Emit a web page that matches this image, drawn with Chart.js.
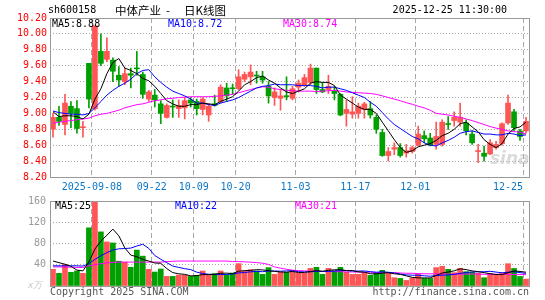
<!DOCTYPE html>
<html>
<head>
<meta charset="utf-8">
<script src="https://cdn.jsdelivr.net/npm/chart.js@4/dist/chart.umd.min.js"></script>
<style>
  body { margin: 0; background: #fff; }
  #wrap { position: relative; width: 545px; height: 300px; overflow: hidden; font-family: "DejaVu Sans Mono", monospace; }
  canvas { position: absolute; left: 0; }
  .t { position: absolute; white-space: nowrap; font-size: 10px; line-height: 10px; }
  .cn { font-family: "Noto Sans CJK SC"; font-size: 11.5px; line-height: 12px; }
</style>
</head>
<body>
<div id="wrap">
  <canvas id="kline" width="545" height="195" style="top:0"></canvas>
  <canvas id="volume" width="545" height="105" style="top:195px"></canvas>

  <div class="t" style="left:48px;top:5px;">sh600158</div>
  <div class="t cn" style="left:115px;top:4px;">中体产业</div>
  <div class="t cn" style="left:166px;top:4px;">-</div>
  <div class="t cn" style="left:184px;top:4px;">日K线图</div>
  <div class="t" style="right:38px;top:5px;">2025-12-25 11:30:00</div>

  <div class="t" style="left:52px;top:19px;color:#000;">MA5:8.88</div>
  <div class="t" style="left:168px;top:19px;color:#0000ff;">MA10:8.72</div>
  <div class="t" style="left:283px;top:19px;color:#ff00ff;">MA30:8.74</div>

  <div class="t" style="left:55px;top:201px;color:#000;">MA5:25</div>
  <div class="t" style="left:175px;top:201px;color:#0000ff;">MA10:22</div>
  <div class="t" style="left:295px;top:201px;color:#ff00ff;">MA30:21</div>

  <div class="t" style="left:28px;top:280px;color:#c8c8c8;font-size:9px;font-style:italic;">x万</div>
  <div class="t" style="left:50px;top:287px;color:#555;">Copyright 2025 SINA.COM</div>
  <div class="t" style="right:16px;top:287px;color:#555;">http://finance.sina.com.cn</div>
  <div class="t" style="left:490px;top:150px;color:rgba(190,190,190,0.55);font-family:'DejaVu Sans';font-size:17px;line-height:17px;font-weight:bold;font-style:italic;">sina</div>
</div>

<script>
// trading days 2025-08-28 .. 2025-12-25
const days = [
  "08-28","08-29",
  "09-01","09-02","09-03","09-04","09-05","09-08","09-09","09-10","09-11","09-12",
  "09-15","09-16","09-17","09-18","09-19","09-22","09-23","09-24","09-25","09-26","09-29","09-30",
  "10-09","10-10","10-13","10-14","10-15","10-16","10-17","10-20","10-21","10-22","10-23","10-24",
  "10-27","10-28","10-29","10-30","10-31",
  "11-03","11-04","11-05","11-06","11-07","11-10","11-11","11-12","11-13","11-14",
  "11-17","11-18","11-19","11-20","11-21","11-24","11-25","11-26","11-27","11-28",
  "12-01","12-02","12-03","12-04","12-05","12-08","12-09","12-10","12-11","12-12",
  "12-15","12-16","12-17","12-18","12-19","12-22","12-23","12-24","12-25"
];
const tickDays = ["09-08", "09-22", "10-09", "10-20", "11-03", "11-17", "12-01", "12-25"];
const tickText = ["2025-09-08", "09-22", "10-09", "10-20", "11-03", "11-17", "12-01", "12-25"];

const opens = [8.80,8.95,8.86,9.09,9.06,8.82,9.63,9.06,9.78,9.68, 9.67,9.48,9.40,9.50,9.57,9.49,9.18,9.23,9.12,8.95,
  9.09,9.06,9.07,9.17,9.15,9.05,8.98,9.12,9.15,9.32, 9.32,9.31,9.43,9.46,9.48,9.46,9.34,9.20,9.19,9.22,
  9.19,9.33,9.36,9.39,9.57,9.30,9.30,9.28,9.24,9.00, 8.99,9.00,9.05,9.06,8.95,8.76,8.47,8.55,8.57,8.50,
  8.52,8.60,8.72,8.69,8.61,8.61,8.87,8.91,8.89,8.88, 8.74,8.52,8.50,8.49,8.57,8.62,8.88,9.02,8.78,8.78];
const highs = [9.00,9.09,9.24,9.15,9.16,8.90,9.63,10.10,10.00,9.95, 9.70,9.59,9.57,9.57,9.78,9.52,9.29,9.30,9.16,9.12,
  9.17,9.17,9.20,9.20,9.18,9.20,9.12,9.23,9.36,9.38, 9.37,9.55,9.52,9.61,9.53,9.53,9.40,9.32,9.30,9.46,
  9.34,9.42,9.49,9.62,9.57,9.39,9.48,9.34,9.25,9.17, 9.21,9.13,9.14,9.15,8.98,8.80,8.57,8.63,8.62,8.61,
  8.59,8.84,8.78,8.75,8.89,8.92,8.96,9.02,9.13,8.92, 8.78,8.61,8.59,8.67,8.65,8.88,9.23,9.05,8.80,8.95];
const lows = [8.70,8.85,8.73,8.82,8.75,8.70,9.07,9.04,9.60,9.65, 9.40,9.34,9.36,9.32,9.48,9.19,9.15,9.08,8.87,8.94,
  8.95,8.95,8.93,9.08,8.98,8.98,8.90,9.09,9.13,9.15, 9.24,9.30,9.40,9.36,9.38,9.38,9.13,9.10,9.04,9.17,
  9.17,9.27,9.34,9.36,9.25,9.26,9.25,9.17,8.97,8.84, 8.94,8.94,8.94,8.94,8.75,8.46,8.40,8.48,8.45,8.45,
  8.50,8.59,8.63,8.59,8.55,8.59,8.80,8.84,8.84,8.73, 8.61,8.38,8.40,8.48,8.55,8.60,8.86,8.78,8.66,8.75];
const closes = [8.95,8.90,9.13,9.00,8.81,8.83,9.18,10.10,9.63,9.78, 9.53,9.42,9.50,9.48,9.56,9.24,9.27,9.17,9.00,9.10,
  9.08,9.10,9.16,9.13,9.06,9.18,9.09,9.10,9.33,9.22, 9.31,9.46,9.49,9.52,9.47,9.42,9.22,9.27,9.22,9.21,
  9.31,9.38,9.45,9.57,9.30,9.27,9.34,9.25,8.98,9.05, 9.02,9.09,9.12,8.98,8.80,8.47,8.52,8.57,8.47,8.53,
  8.57,8.74,8.68,8.60,8.71,8.89,8.86,8.95,8.95,8.78, 8.63,8.53,8.46,8.63,8.61,8.87,9.13,8.82,8.71,8.90];

const ma5 = [9.02,8.96,8.97,8.97,8.96,8.93,8.99,9.18,9.31,9.50, 9.64,9.69,9.57,9.54,9.50,9.44,9.41,9.34,9.25,9.16,
  9.12,9.09,9.09,9.11,9.11,9.13,9.12,9.11,9.15,9.18, 9.21,9.28,9.36,9.40,9.45,9.47,9.42,9.38,9.32,9.27,
  9.25,9.28,9.31,9.38,9.40,9.39,9.39,9.35,9.23,9.18, 9.13,9.08,9.05,9.05,9.00,8.89,8.78,8.67,8.57,8.51,
  8.53,8.58,8.60,8.62,8.66,8.72,8.75,8.80,8.87,8.89, 8.83,8.77,8.67,8.61,8.57,8.62,8.74,8.81,8.83,8.89];
const ma10 = [9.03,9.01,9.00,8.99,8.99,8.98,9.00,9.07,9.15,9.23, 9.29,9.34,9.38,9.43,9.50,9.54,9.55,9.46,9.39,9.33,
  9.28,9.25,9.22,9.18,9.13,9.13,9.11,9.10,9.13,9.15, 9.17,9.20,9.24,9.28,9.32,9.34,9.35,9.37,9.36,9.36,
  9.36,9.35,9.35,9.35,9.34,9.32,9.33,9.33,9.31,9.29, 9.26,9.23,9.20,9.14,9.09,9.01,8.93,8.86,8.81,8.76,
  8.71,8.68,8.63,8.60,8.59,8.63,8.66,8.70,8.75,8.77, 8.78,8.76,8.74,8.74,8.73,8.73,8.75,8.74,8.72,8.73];
const ma30 = [8.875,8.89,8.90,8.91,8.92,8.93,8.94,8.97,8.99,9.00, 9.02,9.04,9.07,9.09,9.11,9.12,9.14,9.16,9.17,9.185,
  9.19,9.20,9.205,9.21,9.21,9.21,9.21,9.215,9.22,9.23, 9.24,9.26,9.28,9.30,9.32,9.335,9.33,9.31,9.30,9.29,
  9.285,9.28,9.28,9.28,9.275,9.28,9.285,9.29,9.28,9.27, 9.265,9.26,9.255,9.25,9.24,9.22,9.20,9.18,9.16,9.135,
  9.115,9.09,9.07,9.04,9.00,8.99,8.98,8.965,8.95,8.93, 8.91,8.885,8.86,8.835,8.815,8.80,8.78,8.77,8.765,8.74];

// volume, 10k shares
const vols = [31.4,23.8,40.3,25.7,28.3,23.8,109.5,160,101.9,82.9, 81,46.7,44.8,35.2,67.6,56.2,31.4,26.3,32,18.1,
  18.1,20.6,20.6,18.1,20,28.3,20,23.2,28.3,21.3, 24.4,42.2,28.3,30.8,28.3,21.9,34.6,21.9,25.7,25.7,
  28.9,23.8,23.8,33.3,35.2,21.9,33.3,28.9,35.2,25.7, 21.9,21.9,25.7,20,24.4,29.5,25.7,15.6,14.3,10.5,
  14.9,21.9,14.3,14.3,34.6,37.1,31.4,25.1,33.3,27, 25.7,23.8,15.6,23.2,20,24,42,33,18,13];
const vma5 = [47,44,41,37,29.9,28.4,45.5,69.5,84.7,95.6, 107.1,94.5,71.5,58.1,55.1,50.1,47,43.3,42.7,32.8,
  25.2,23,21.9,19.1,19.5,21.5,21.4,21.9,24,24.2, 23.4,27.9,28.9,29.4,30.8,30.3,28.8,27.5,26.5,26,
  27.4,25.2,25.6,27.1,29,27.6,29.5,30.5,30.9,29, 29,26.7,26.1,23,22.8,24.3,25.1,23,21.9,19.1,
  16.2,15.4,15.2,15.2,20,24.4,26.3,28.5,32.3,30.8, 28.5,27,25.1,23.1,21.7,21.3,25,28.4,27.4,26];
const vma10 = [38,38,38,38,38,37.5,42,50,57,62.8, 67.7,70,70.5,71.4,75.3,78.6,70.8,57.4,50.4,43.9,
  37.6,35,32.6,30.9,26.1,23.4,22.2,21.9,21.5,21.9, 22.5,24.6,25.4,26.7,27.5,26.9,28.3,28.2,27.9,28.4,
  28.8,27,26.5,26.8,27.5,27.5,27.4,28.1,29,29, 28.3,28.1,28.3,27,25.9,26.7,25.9,24.6,22.5,21,
  20.3,20.3,19.1,18.5,19.6,20.3,20.9,21.8,23.7,25.4, 26.5,26.7,26.8,27.7,26.2,24.9,26,26.8,25.2,23.8];
const vma30 = [36,36,35.5,35.5,35,35,38,40,42,43.5, 44.5,45,45,45,45,45,45,45,45,46,
  46.5,47,47,47,47,47,47,47,47,47, 46,46,45.5,45,44,43,40.5,36,33.5,31.5,
  29.7,29,28.5,28,28,27.5,27.5,27,27,26.5, 26.5,26,26,26,25.5,25.5,25,25,24.5,24,
  24,23.5,23,23,23,22.5,22.5,22.5,22.5,22.5, 22.5,22.5,22,22,22,22,22,21.5,21.5,21.5];

const UP = "#ff5555";
const DOWN = "#00a000";
const GRID = "#a8a8a8";
const MONO = "'DejaVu Sans Mono', monospace";

const candleColors = opens.map((o, i) => (closes[i] >= o ? UP : DOWN));
const bodies = opens.map((o, i) => [Math.min(o, closes[i]), Math.max(o, closes[i])]);
const wicks = lows.map((l, i) => [l, highs[i]]);

const isMarked = (i) => tickDays.includes(days[i]);

// grey frame around each plot area
const frame = {
  id: "frame",
  afterDraw(chart) {
    const { ctx, chartArea: a } = chart;
    ctx.save();
    ctx.strokeStyle = "#999";
    ctx.lineWidth = 1;
    ctx.strokeRect(a.left + 0.5, a.top + 0.5, a.right - a.left, a.bottom - a.top);
    ctx.restore();
  },
};

const maLine = (data, color) => ({
  type: "line",
  data: data,
  borderColor: color,
  borderWidth: 1,
  pointRadius: 0,
  tension: 0,
  order: 0,
});

const xAxis = (showLabels, height) => ({
  offset: true,
  grid: {
    offset: true,
    drawTicks: false,
    color: (ctx) => (isMarked(ctx.index) ? GRID : "transparent"),
  },
  border: { display: false, dash: [5, 3] },
  ticks: {
    display: showLabels,
    autoSkip: false,
    maxRotation: 0,
    padding: 4,
    labelOffset: -3,
    color: "#0b78c8",
    font: { family: MONO, size: 10 },
    callback: (v, i) => {
      const k = tickDays.indexOf(days[i]);
      if (k < 0) return "";
      // last label is pulled back inside the frame
      return i === days.length - 1 ? tickText[k] + "     " : tickText[k];
    },
  },
  afterFit: (s) => {
    s.height = height;
    s.paddingLeft = 0;
    s.paddingRight = 0;
  },
});

Chart.defaults.font.family = MONO;

new Chart(document.getElementById("kline"), {
  type: "bar",
  data: {
    labels: days,
    datasets: [
      maLine(ma5, "#000000"),
      maLine(ma10, "#0000ff"),
      maLine(ma30, "#ff00ff"),
      { data: bodies, backgroundColor: candleColors, barThickness: 5, minBarLength: 1, grouped: false, order: 1 },
      { data: wicks, backgroundColor: candleColors, barThickness: 1, grouped: false, order: 2 },
    ],
  },
  options: {
    responsive: false,
    animation: false,
    devicePixelRatio: 1,
    layout: { padding: { top: 18, right: 16, left: 0, bottom: 0 } },
    plugins: { legend: { display: false }, tooltip: { enabled: false } },
    scales: {
      x: xAxis(true, 18),
      y: {
        min: 8.2,
        max: 10.2,
        grid: {
          drawTicks: false,
          color: (ctx) => {
            const v = ctx.tick.value;
            return Math.abs(v - 8.2) < 1e-6 || Math.abs(v - 10.2) < 1e-6 ? "transparent" : GRID;
          },
        },
        border: { display: false, dash: [1, 2] },
        ticks: {
          stepSize: 0.2,
          padding: 3,
          color: "#ff0000",
          font: { family: MONO, size: 10 },
          callback: (v) => Number(v).toFixed(2),
        },
        afterFit: (s) => { s.width = 50; s.paddingTop = 0; s.paddingBottom = 0; },
      },
    },
  },
  plugins: [frame],
});

new Chart(document.getElementById("volume"), {
  type: "bar",
  data: {
    labels: days,
    datasets: [
      maLine(vma5, "#000000"),
      maLine(vma10, "#0000ff"),
      maLine(vma30, "#ff00ff"),
      { data: vols, backgroundColor: candleColors, barThickness: 5, grouped: false, order: 1 },
    ],
  },
  options: {
    responsive: false,
    animation: false,
    devicePixelRatio: 1,
    layout: { padding: { top: 6, right: 16, left: 0, bottom: 14 } },
    plugins: { legend: { display: false }, tooltip: { enabled: false } },
    scales: {
      x: xAxis(false, 0),
      y: {
        min: 0,
        max: 160,
        grid: {
          drawTicks: false,
          color: (ctx) => (ctx.tick.value === 0 || ctx.tick.value === 160 ? "transparent" : GRID),
        },
        border: { display: false, dash: [1, 2] },
        ticks: {
          stepSize: 40,
          padding: 4,
          color: "#999",
          font: { family: MONO, size: 10 },
          callback: (v) => (v === 0 ? "" : v),
        },
        afterFit: (s) => { s.width = 50; s.paddingTop = 0; s.paddingBottom = 0; },
      },
    },
  },
  plugins: [frame],
});
</script>
</body>
</html>
